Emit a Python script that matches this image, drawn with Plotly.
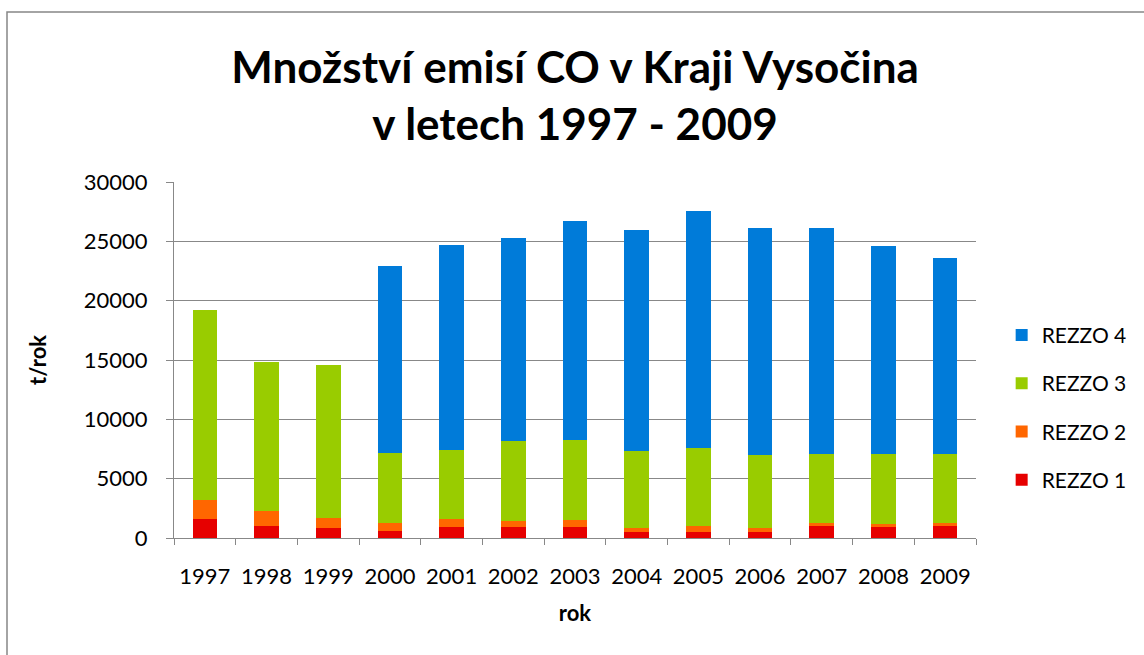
import plotly.graph_objects as go

years = ["1997", "1998", "1999", "2000", "2001", "2002", "2003", "2004", "2005", "2006", "2007", "2008", "2009"]
rezzo1 = [1630, 990, 840, 620, 950, 950, 950, 530, 530, 530, 1040, 950, 1040]
rezzo2 = [1550, 1260, 870, 650, 680, 510, 540, 340, 460, 340, 250, 230, 230]
rezzo3 = [16050, 12550, 12830, 5900, 5790, 6740, 6800, 6490, 6600, 6130, 5820, 5930, 5840]
rezzo4 = [0, 0, 0, 15770, 17240, 17070, 18390, 18560, 19960, 19090, 19010, 17490, 16480]

series = [
    ("REZZO 1", rezzo1, "#E60000"),
    ("REZZO 2", rezzo2, "#FF6600"),
    ("REZZO 3", rezzo3, "#99CC00"),
    ("REZZO 4", rezzo4, "#007BD9"),
]

FONT = "Lato"
GRID = "#888888"

fig = go.Figure()
for i, (name, vals, col) in enumerate(series):
    fig.add_trace(go.Bar(
        x=years, y=vals, name=name, legendgroup=name,
        legendrank=len(series) - i,
        marker=dict(color=col, line=dict(width=0)),
    ))

fig.update_layout(
    width=1144, height=655,
    barmode="stack", bargap=0.6,
    plot_bgcolor="white", paper_bgcolor="white",
    margin=dict(l=174, r=168, t=182, b=117, autoexpand=False),
    font=dict(family=FONT, color="#000000", size=21),
    title=dict(
        text="<b>Množství emisí CO v Kraji Vysočina<br>v letech 1997 - 2009</b>",
        x=0.5, xref="paper", xanchor="center",
        y=1 - 82.5 / 655, yref="container", yanchor="middle",
        font=dict(family=FONT, size=44, color="#000000"),
    ),
    legend=dict(
        x=1.032, xanchor="left", y=0.627, yanchor="top",
        traceorder="grouped", tracegroupgap=18,
        font=dict(family=FONT, size=21),
        itemwidth=30,
    ),
    showlegend=True,
)

fig.update_yaxes(
    range=[0, 30000], dtick=5000, tickformat="d",
    showgrid=True, gridcolor=GRID, gridwidth=1,
    showline=True, linecolor=GRID, linewidth=1,
    ticks="outside", ticklen=7, tickcolor=GRID,
    tickfont=dict(family=FONT, size=22),
    ticklabelstandoff=14,
    zeroline=False,
    title=dict(text="<b>t/rok</b>", font=dict(family=FONT, size=22), standoff=31),
)
fig.update_xaxes(
    showline=True, linecolor=GRID, linewidth=1,
    ticks="outside", ticklen=6, tickcolor=GRID, tickson="boundaries",
    tickfont=dict(family=FONT, size=22),
    ticklabelstandoff=19,
    title=dict(text="<b>rok</b>", font=dict(family=FONT, size=22), standoff=17),
)

fig.add_shape(
    type="rect", xref="paper", yref="paper",
    x0=(7 - 174) / 802, x1=(1160 - 174) / 802,
    y0=(538 - 670) / 356, y1=(538 - 12) / 356,
    line=dict(color="#868686", width=1.5), fillcolor="rgba(0,0,0,0)",
    layer="below",
)

fig.write_html(
    "out.html",
    config={"displayModeBar": False},
    post_script="document.body.style.margin='0';document.body.style.overflow='hidden';",
)
